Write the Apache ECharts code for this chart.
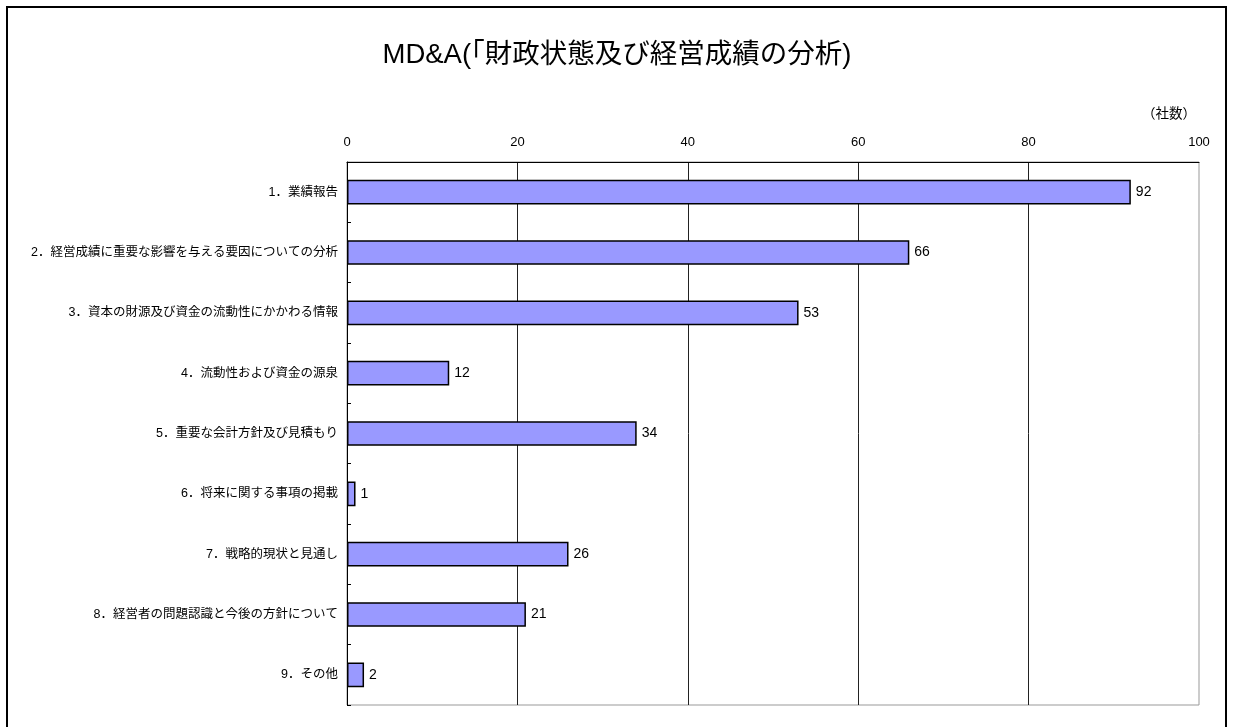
<!DOCTYPE html>
<html>
<head>
<meta charset="utf-8">
<script src="https://cdn.jsdelivr.net/npm/echarts@6/dist/echarts.min.js"></script>
<style>
  html, body { margin: 0; padding: 0; background: #fff; overflow: hidden; }
  .frame {
    position: absolute; left: 6px; top: 6px; width: 1221px; height: 760px;
    border: 2px solid #000; box-sizing: border-box;
  }
  #chart { position: absolute; left: 0; top: 0; width: 1234px; height: 727px; }
</style>
</head>
<body>
<div class="frame"></div>
<div id="chart"></div>
<script>
  // 項目と社数
  const categories = [
    '1．業績報告',
    '2．経営成績に重要な影響を与える要因についての分析',
    '3．資本の財源及び資金の流動性にかかわる情報',
    '4．流動性および資金の源泉',
    '5．重要な会計方針及び見積もり',
    '6．将来に関する事項の掲載',
    '7．戦略的現状と見通し',
    '8．経営者の問題認識と今後の方針について',
    '9．その他'
  ];
  const counts = [92, 66, 53, 12, 34, 1, 26, 21, 2];
  const xTicks = [0, 20, 40, 60, 80, 100];

  const cjk = '"Liberation Sans", "Noto Sans CJK JP", sans-serif';

  let myChart = echarts.init(document.getElementById('chart'));
  let option = {
    animation: false,
    textStyle: { fontFamily: cjk },
    title: {
      text: 'MD&A(｢財政状態及び経営成績の分析)',
      left: 'center',
      top: 37,
      textStyle: { fontSize: 27.5, fontWeight: 'normal', color: '#000', fontFamily: cjk }
    },
    graphic: [{
      type: 'text',
      right: 38,
      top: 108,
      style: { text: '（社数）', fontSize: 13.5, fill: '#000', fontFamily: cjk }
    }],
    grid: {
      left: 347, right: 35, top: 162, bottom: 22,
      show: true, borderColor: '#999', borderWidth: 1
    },
    xAxis: {
      type: 'value',
      position: 'top',
      min: xTicks[0],
      max: xTicks[xTicks.length - 1],
      interval: 20,
      axisLine: { show: true, lineStyle: { color: '#000', width: 1 } },
      axisTick: { show: false },
      axisLabel: { color: '#000', fontSize: 13, margin: 13 },
      splitLine: {
        show: true, showMinLine: false, showMaxLine: false,
        lineStyle: { color: '#222', width: 1 }
      }
    },
    yAxis: {
      type: 'category',
      inverse: true,
      data: categories,
      axisLine: { show: true, lineStyle: { color: '#000', width: 1 } },
      axisTick: { show: true, inside: true, length: 4, lineStyle: { color: '#000' } },
      axisLabel: { color: '#000', fontSize: 12.5, margin: 9 }
    },
    series: [{
      type: 'bar',
      data: counts,
      barWidth: '41%',
      itemStyle: { color: '#9999FF', borderColor: '#000', borderWidth: 1.5 },
      label: {
        show: true, position: 'right', distance: 5,
        color: '#000', fontSize: 14
      }
    }]
  };
  myChart.setOption(option);
</script>
</body>
</html>
